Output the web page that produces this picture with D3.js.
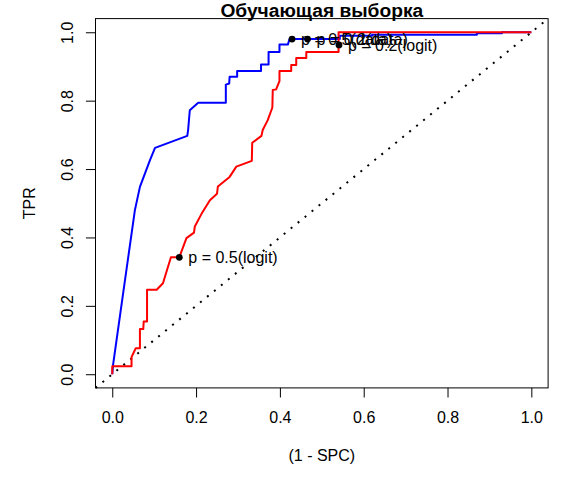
<!DOCTYPE html>
<html>
<head>
<meta charset="utf-8">
<script src="https://cdn.jsdelivr.net/npm/d3@7"></script>
<style>
  body { margin: 0; background: #fff; }
  text { font-family: "Liberation Sans", Arial, sans-serif; fill: #000; }
</style>
</head>
<body>
<svg id="chart" width="567" height="484"></svg>
<script>
// ROC curves: [1 - SPC, TPR]
const logitRoc = [
  [0, 0], [0, 0.023], [0.046, 0.023], [0.046, 0.05], [0.056, 0.076], [0.066, 0.076],
  [0.066, 0.132], [0.074, 0.132], [0.075, 0.154], [0.083, 0.154], [0.083, 0.247],
  [0.106, 0.247], [0.121, 0.266], [0.140, 0.342], [0.160, 0.342], [0.177, 0.398],
  [0.195, 0.414], [0.197, 0.432], [0.213, 0.469], [0.233, 0.509], [0.250, 0.528],
  [0.252, 0.549], [0.280, 0.577], [0.296, 0.607], [0.333, 0.624], [0.334, 0.677],
  [0.356, 0.697], [0.359, 0.714], [0.371, 0.743], [0.382, 0.780], [0.383, 0.831],
  [0.391, 0.833], [0.399, 0.857], [0.399, 0.887], [0.427, 0.887], [0.427, 0.904],
  [0.439, 0.904], [0.439, 0.925], [0.463, 0.925], [0.463, 0.942], [0.540, 0.942],
  [0.540, 1.0], [1, 1]
];
const dataRoc = [
  [0, 0], [0.002, 0.028], [0.026, 0.237], [0.054, 0.48], [0.066, 0.548], [0.090, 0.626],
  [0.102, 0.662], [0.179, 0.697], [0.181, 0.714], [0.185, 0.772], [0.205, 0.794],
  [0.271, 0.794], [0.271, 0.847], [0.279, 0.850], [0.280, 0.870], [0.298, 0.870],
  [0.298, 0.887], [0.355, 0.887], [0.355, 0.906], [0.373, 0.906], [0.373, 0.942],
  [0.399, 0.942], [0.399, 0.964], [0.419, 0.964], [0.423, 0.980], [0.543, 0.980],
  [0.543, 0.990], [0.62, 0.990], [0.62, 0.993], [0.87, 0.993], [0.87, 0.997],
  [0.93, 0.997], [0.93, 1], [1, 1]
];
// cut-off points and their labels
const cutPoints = [
  { x: 0.160, y: 0.342, label: "p = 0.5(logit)" },
  { x: 0.541, y: 0.963, label: "p = 0.2(logit)" },
  { x: 0.429, y: 0.980, label: "p = 0.5(data)" },
  { x: 0.466, y: 0.980, label: "p = 0.2(data)" }
];
const ticks = [0, 0.2, 0.4, 0.6, 0.8, 1.0];

window.svg = d3.select("#chart");

// R style usr: data range extended by 4%
const x = d3.scaleLinear().domain([-0.04, 1.04]).range([95.5, 548.1]);
const y = d3.scaleLinear().domain([-0.04, 1.04]).range([387.9, 18.6]);

const plot = svg.append("g").attr("id", "plot");

// diagonal reference line
plot.append("line")
  .attr("x1", x(-0.04)).attr("y1", y(-0.04))
  .attr("x2", x(1.04)).attr("y2", y(1.04))
  .attr("stroke", "#000").attr("stroke-width", 2)
  .attr("stroke-dasharray", "2,7");

const line = d3.line().x(d => x(d[0])).y(d => y(d[1]));

plot.append("path").datum(dataRoc)
  .attr("d", line).attr("fill", "none")
  .attr("stroke", "#0000ff").attr("stroke-width", 2)
  .attr("stroke-linejoin", "round");

plot.append("path").datum(logitRoc)
  .attr("d", line).attr("fill", "none")
  .attr("stroke", "#ff0000").attr("stroke-width", 2)
  .attr("stroke-linejoin", "round");

plot.selectAll("circle.cut").data(cutPoints).join("circle")
  .attr("class", "cut")
  .attr("cx", d => x(d.x)).attr("cy", d => y(d.y))
  .attr("r", 3.4).attr("fill", "#000");

plot.selectAll("text.cut").data(cutPoints).join("text")
  .attr("class", "cut")
  .attr("x", d => x(d.x) + 9).attr("y", d => y(d.y) + 5.8)
  .attr("font-size", 16)
  .text(d => d.label);

// box
svg.append("rect")
  .attr("x", x(-0.04)).attr("y", y(1.04))
  .attr("width", x(1.04) - x(-0.04)).attr("height", y(-0.04) - y(1.04))
  .attr("fill", "none").attr("stroke", "#000").attr("stroke-width", 1);

// axes
const xAxis = svg.append("g")
  .attr("transform", `translate(0,${y(-0.04)})`)
  .call(d3.axisBottom(x).tickValues(ticks).tickFormat(d3.format(".1f"))
    .tickSize(9.6).tickPadding(0));
xAxis.select(".domain").remove();
xAxis.selectAll("line").attr("stroke", "#000");
xAxis.selectAll("text")
  .attr("font-size", 16).attr("dy", null)
  .attr("y", 423.3 - y(-0.04));

const yAxis = svg.append("g")
  .attr("transform", `translate(${x(-0.04)},0)`)
  .call(d3.axisLeft(y).tickValues(ticks).tickFormat(d3.format(".1f"))
    .tickSize(9.6).tickPadding(0));
yAxis.select(".domain").remove();
yAxis.selectAll("line").attr("stroke", "#000");
yAxis.selectAll("text")
  .attr("font-size", 16).attr("dy", null).attr("x", null)
  .attr("text-anchor", "middle")
  .attr("transform", `translate(${72.7 - x(-0.04)},0) rotate(-90)`);

// titles
svg.append("text")
  .attr("x", (x(-0.04) + x(1.04)) / 2).attr("y", 17)
  .attr("text-anchor", "middle").attr("font-size", 19.2).attr("font-weight", "bold")
  .text("Обучающая выборка");

svg.append("text")
  .attr("x", (x(-0.04) + x(1.04)) / 2).attr("y", 461)
  .attr("text-anchor", "middle").attr("font-size", 16)
  .text("(1 - SPC)");

svg.append("text")
  .attr("transform", `translate(35,${(y(-0.04) + y(1.04)) / 2}) rotate(-90)`)
  .attr("text-anchor", "middle").attr("font-size", 16)
  .text("TPR");
</script>
</body>
</html>
